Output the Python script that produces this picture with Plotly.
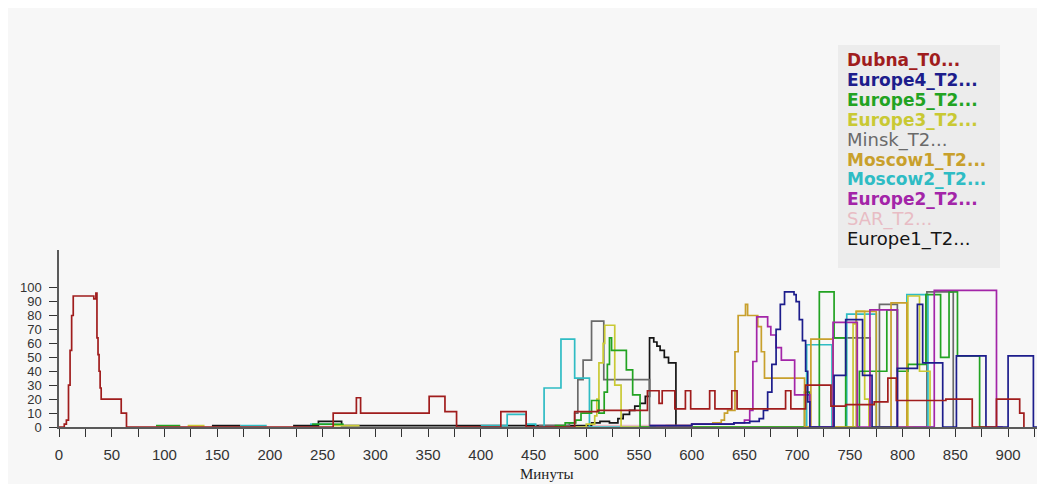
import plotly.graph_objects as go

# ---------------- data (minutes, load %) ----------------
SERIES_NAMES = ["Dubna_T0...", "Europe4_T2...", "Europe5_T2...", "Europe3_T2...", "Minsk_T2...",
                "Moscow1_T2...", "Moscow2_T2...", "Europe2_T2...", "SAR_T2...", "Europe1_T2..."]
SERIES_COLORS = ["#a01d1d", "#1d1d8c", "#22a322", "#c9c934", "#6a6a6a",
                 "#c8a02c", "#2fbcc4", "#a325a8", "#e8bcc4", "#151515"]
LEGEND_BOLD = [True, True, True, True, False, True, True, True, False, False]

dubna_x = [0, 5, 7, 9, 10.5, 12, 13.5, 33, 35, 36, 37, 38, 39, 40, 59, 64, 260, 282, 286, 351, 366, 377,
           419, 443, 489, 511, 558, 569, 572, 584, 594, 599, 617, 622, 638, 643, 689, 694, 708, 732,
           746, 773, 786, 794, 841, 866, 889, 911, 915]
dubna_y = [0, 2, 5, 30, 55, 80, 94, 92, 96, 64, 52, 40, 28, 20, 10, 0, 10, 21, 10, 22, 11, 0,
           11, 0, 11, 12, 26, 17, 26, 13, 26, 13, 26, 13, 26, 13, 26, 13, 30, 15,
           16, 18, 35, 19, 20, 0, 20, 10, 0]

europe4_x = [560, 600, 640, 655, 664, 668, 672, 676, 680, 684, 688, 697, 699, 702, 705, 708, 710, 712,
             735, 746, 762, 771, 795, 814, 819, 838, 851, 879, 900, 924, 930]
europe4_y = [1, 2, 3, 4, 6, 12, 25, 45, 70, 88, 97, 95, 90, 77, 62, 40, 18, 0,
             37, 77, 37, 0, 42, 88, 46, 0, 51, 0, 51, 0, 0]

europe5_x = [92, 115, None, 240, 270, None, 470, 480, 490, 495, 505, 512, 517, 520, 522, 524, 538, 544, 551,
             700, 707, 712, 721, 735, 746, 759, 785, 795, 805, 822, 836, 844, 852, 873, 880]
europe5_y = [1, 1, None, 2, 2, None, 1, 3, 5, 10, 19, 10, 25, 45, 64, 55, 41, 23, 0,
             0, 25, 0, 97, 64, 0, 40, 84, 40, 45, 95, 50, 97, 51, 0, 0]

europe3_x = [122, 138, None, 260, 285, None, 490, 500, 508, 510, 512, 516, 517.5, 527, 533,
             752, 753, 756, 764, 768, 805, 816, 826]
europe3_y = [1, 1, None, 1, 1, None, 0, 2, 8, 20, 46, 60, 73, 30, 0,
             0, 74, 83, 20, 0, 94, 40, 0]

minsk_x = [455, 470, 484, 489, 492, 497, 505, 516.6, 560, 734, 769, 778, 795, 823, 848]
minsk_y = [1, 1, 3, 10, 34, 48, 76, 34, 0, 64, 0, 88, 0, 97, 0]

moscow1_x = [566, 576, 600, 620, 628, 631, 634, 641, 644, 651, 653, 662.6, 666, 669, 707, 713, 734,
             756, 775, 789, 804, 810]
moscow1_y = [0, 1, 2, 3, 5, 10, 12, 54, 80, 88, 80, 72, 54, 35, 0, 63, 0,
             83, 0, 89, 0, 0]

moscow2_x = [172, 197, None, 238, 260, None, 400, 425, 443, 452, 460, 476, 489, 503,
             709, 733, 747, 775, 804, 824, 830]
moscow2_y = [1, 1, None, 2, 2, None, 1, 9, 2, 0, 28, 63, 35, 0,
             59, 0, 81, 0, 95, 0, 0]

europe2_x = [560, 600, 640, 650, 655, 658, 661.6, 672, 675, 680, 685, 697.6, 712, 734, 757, 769, 795,
             830, 889, 895]
europe2_y = [1, 2, 3, 5, 12, 47, 79, 72, 66, 57, 48, 23, 0, 75, 0, 84, 0,
             98, 0, 0]

sar_x = [505, 600]
sar_y = [1, 1]

europe1_x = [145, 172, None, 222, 238, 246, 268, 300, 470, 505, 513, 522, 530, 535, 541, 546, 551, 556,
             560, 564, 567, 570, 574, 578, 585, 600]
europe1_y = [1, 1, None, 1, 1, 4, 1, 1, 1, 3, 4, 3, 6, 9, 12, 15, 17, 22,
             64, 61, 58, 55, 50, 46, 0, 0]

SERIES_X = [dubna_x, europe4_x, europe5_x, europe3_x, minsk_x, moscow1_x, moscow2_x, europe2_x, sar_x, europe1_x]
SERIES_Y = [dubna_y, europe4_y, europe5_y, europe3_y, minsk_y, moscow1_y, moscow2_y, europe2_y, sar_y, europe1_y]

X_TICKS = [0, 50, 100, 150, 200, 250, 300, 350, 400, 450, 500, 550, 600, 650, 700, 750, 800, 850, 900]
X_TICK_LABELS = ["0", "50", "100", "150", "200", "250", "300", "350", "400", "450", "500", "550",
                 "600", "650", "700", "750", "800", "850", "900"]
Y_TICKS = [0, 10, 20, 30, 40, 50, 60, 70, 80, 90, 100]
Y_TICK_LABELS = ["0", "10", "20", "30", "40", "50", "60", "70", "80", "90", "100"]
X_TITLE = "Минуты"

# ---------------- figure ----------------
OFF = 8                      # page body margin of the html page
W, H = 1045 - OFF, 484 - OFF
ML, MR = 59 - OFF, 0
MT = 250 - OFF
MB = H - (427 - OFF)
plot_h = H - MT - MB
plot_w = W - ML - MR

fig = go.Figure()
draw_order = [8, 9, 4, 6, 3, 2, 5, 7, 1, 0]
for i in draw_order:
    fig.add_trace(go.Scatter(
        x=SERIES_X[i], y=SERIES_Y[i], mode="lines", name=SERIES_NAMES[i],
        line=dict(color=SERIES_COLORS[i], width=1.7, shape="hv"),
        connectgaps=False, hoverinfo="skip", showlegend=False))

tickfam = "Liberation Sans, Arial, sans-serif"
axis_col = "#5a5a5a"

fig.update_xaxes(range=[0, 935], showgrid=False, zeroline=False,
                 showline=True, linecolor=axis_col, linewidth=1.5,
                 tickmode="array", tickvals=X_TICKS, ticktext=X_TICK_LABELS,
                 ticks="outside", ticklen=8, tickwidth=1.3, tickcolor="#333",
                 minor=dict(dtick=25, tick0=0, ticks="outside", ticklen=8, tickwidth=1.3, tickcolor="#333"),
                 tickfont=dict(family=tickfam, size=15, color="#333"),
                 ticklabelstandoff=5)
fig.update_yaxes(range=[0, 127], showgrid=False, zeroline=False,
                 showline=True, linecolor=axis_col, linewidth=1.5,
                 tickmode="array", tickvals=Y_TICKS, ticktext=Y_TICK_LABELS,
                 ticks="outside", ticklen=8, tickwidth=1.3, tickcolor="#333",
                 tickfont=dict(family=tickfam, size=13, color="#333"),
                 ticklabelstandoff=5)

def py(page_y):
    return (H - MB - (page_y - OFF)) / plot_h

def px(page_x):
    return (page_x - OFF - ML) / plot_w

# legend box drawn as shape + coloured text annotations
fig.add_shape(type="rect", xref="paper", yref="paper",
              x0=px(838), x1=px(1000), y0=py(268), y1=py(45),
              fillcolor="#ececec", line=dict(width=0), layer="below")
for k, name in enumerate(SERIES_NAMES):
    bold = LEGEND_BOLD[k]
    txt = "<b>%s</b>" % name if bold else name
    fig.add_annotation(xref="paper", yref="paper", x=px(845), y=py(60 + 19.9 * k),
                       xanchor="left", yanchor="middle", showarrow=False, text=txt,
                       font=dict(family="DejaVu Sans, Verdana, sans-serif", size=17 if bold else 18,
                                 color=SERIES_COLORS[k]))

fig.add_annotation(xref="paper", yref="paper", x=px(547), y=py(474), xanchor="center",
                   yanchor="middle", showarrow=False, text=X_TITLE,
                   font=dict(family="Liberation Serif, Times New Roman, serif", size=15, color="#222"))

fig.update_layout(width=W, height=H, margin=dict(l=ML, r=MR, t=MT, b=MB),
                  paper_bgcolor="#f7f7f7", plot_bgcolor="#f7f7f7", showlegend=False)

fig.write_html("out.html")
